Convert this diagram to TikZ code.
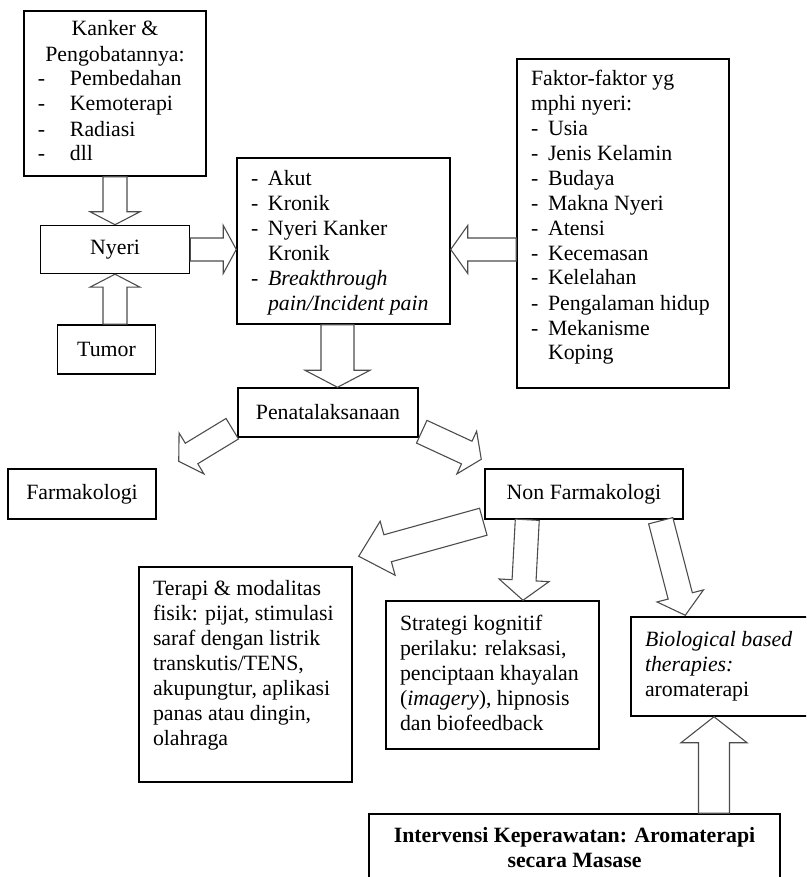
\documentclass[tikz,border=0pt]{standalone}
\usepackage{fontspec}
\setmainfont{Liberation Serif}
\usepackage{tikz}
\usetikzlibrary{calc,positioning}
\newdimen\px \px=0.55pt
\def\dashW{17\px}
\newcommand\dashitem[2][\dashW]{\makebox[#1][l]{-}#2}
% box text: width, height, top pad (px)
\newcommand\topbox[4]{\parbox[c][#2\px][t]{#1\px}{\raggedright\leftskip=14\px\vspace*{#3\px}#4}}
% block arrow: tail, tip, shaft width, head width, head length (px)
\newcommand\fatarrow[5]{%
  \coordinate (fa) at ($(#2)!#5*\px!(#1)$);
  \draw[fat] ($(#1)!#3/2*\px!90:(#2)$) -- ($(fa)!#3/2*\px!90:(#2)$) -- ($(fa)!#4/2*\px!90:(#2)$) -- (#2)
    -- ($(fa)!#4/2*\px!-90:(#2)$) -- ($(fa)!#3/2*\px!-90:(#2)$) -- ($(#1)!#3/2*\px!-90:(#2)$) -- cycle;
}
\tikzset{
  box/.style={draw=black, line width=0.8pt, inner sep=0pt},
  fat/.style={draw=black!70, line width=0.6pt, fill=white, line join=miter},
}

\begin{document}
\begin{tikzpicture}[x=0.55pt,y=-0.55pt,font=\fontsize{12}{13.75}\selectfont]
  \useasboundingbox (0,0) rectangle (806,877);
  \clip (0,0) rectangle (806,877);
  % top row
  \node[box] (kanker) at (115,93.5) {\topbox{182}{165}{7.5}{%
    \centerline{\strut Kanker \&}\centerline{Pengobatannya:}%
    \dashitem[32\px]{Pembedahan}\\ \dashitem[32\px]{Kemoterapi}\\
    \dashitem[32\px]{Radiasi}\\ \dashitem[32\px]{dll}}};
  \node[box, minimum width=149\px, minimum height=48\px, below=48\px of kanker] (nyeri) {Nyeri};
  \node[box, minimum width=98\px, minimum height=49\px, below=50\px of nyeri, xshift=-8.5\px] (tumor) {Tumor};
  \node[box] (akut) at (343.5,241) {\topbox{213}{166}{9.5}{%
    \strut\dashitem{Akut}\\ \dashitem{Kronik}\\ \dashitem{Nyeri Kanker}\\
    \hspace*{\dashW}Kronik\\ \dashitem{\textit{Breakthrough}}\\
    \hspace*{\dashW}\mbox{\textit{pain/Incident pain}}}};
  \node[box] (faktor) at (623,223.5) {\topbox{212}{329}{8.5}{%
    \strut Faktor-faktor yg\\ mphi nyeri:\\
    \dashitem{Usia}\\ \dashitem{Jenis Kelamin}\\ \dashitem{Budaya}\\
    \dashitem{Makna Nyeri}\\ \dashitem{Atensi}\\ \dashitem{Kecemasan}\\
    \dashitem{Kelelahan}\\ \dashitem{Pengalaman hidup}\\
    \dashitem{Mekanisme}\\ \hspace*{\dashW}Koping}};
  % middle
  \node[box, minimum width=180\px, minimum height=49\px] (pena) at (328,412.5) {Penatalaksanaan};
  \node[box, minimum width=148\px, minimum height=50\px] (farm) at (82,494) {Farmakologi};
  \node[box, minimum width=198\px, minimum height=50\px] (nonfarm) at (584,494) {Non Farmakologi};
  % bottom
  \node[box] (terapi) at (245.5,674.5) {\topbox{213}{215}{10.5}{%
    \strut Terapi \& modalitas\\ fisik: pijat, stimulasi\\ saraf dengan listrik\\
    transkutis/TENS,\\ akupungtur, aplikasi\\ panas atau dingin,\\ olahraga}};
  \node[box] (strategi) at (492.5,675) {\topbox{213}{148}{11.5}{%
    \strut Strategi kognitif\\ perilaku: relaksasi,\\ penciptaan khayalan\\
    (\textit{imagery}), hipnosis\\ dan biofeedback}};
  \node[box] (bio) at (723,666.5) {\topbox{184}{99}{11.5}{%
    \strut\textit{Biological based}\\ \textit{therapies:}\\ aromaterapi}};
  \node[box] (interv) at (574.5,854) {\parbox[c][80\px][t]{411\px}{\centering\bfseries
    \vspace*{10.5\px}\strut Intervensi Keperawatan: Aromaterapi\\ secara Masase}};
  % arrow ends
  \coordinate (tumor-up) at (nyeri.south |- tumor.north);
  \coordinate (akut-in) at (akut.west |- nyeri.east);
  \coordinate (faktor-out) at (faktor.west |- nyeri.east);
  \coordinate (akut-in2) at (akut.east |- nyeri.east);
  \coordinate (akut-out) at ($(akut.south)+(-6,0)$);
  \coordinate (pena-in) at (akut-out |- pena.north);
  \coordinate (pena-l) at ($(pena.south west)+(-5,-9)$);
  \coordinate (farm-in) at ($(farm.north east)+(22,-7)$);
  \coordinate (pena-r) at ($(pena.south east)+(3,-6)$);
  \coordinate (nonfarm-in) at ($(nonfarm.north west)+(-3,-9)$);
  \coordinate (nonfarm-l) at ($(nonfarm.south west)+(-1,2)$);
  \coordinate (terapi-in) at ($(terapi.north east)+(6,-10)$);
  \coordinate (nonfarm-m) at ($(nonfarm.south west)+(43,0)$);
  \coordinate (strategi-in) at ($(strategi.north)+(30.5,0)$);
  \coordinate (nonfarm-r) at ($(nonfarm.south east)+(-23,1)$);
  \coordinate (bio-in) at ($(bio.north west)+(55,-1)$);
  \coordinate (interv-out) at ($(interv.north)+(139.5,0)$);
  \coordinate (bio-in2) at (interv-out |- bio.south);
  % arrows
  \fatarrow{kanker.south}{nyeri.north}{24}{50}{13}
  \fatarrow{tumor-up}{nyeri.south}{24}{50}{13}
  \fatarrow{nyeri.east}{akut-in}{23}{48}{13}
  \fatarrow{faktor-out}{akut-in2}{23}{48}{17}
  \fatarrow{akut-out}{pena-in}{33}{65}{17}
  \fatarrow{pena-l}{farm-in}{24}{48}{15}
  \fatarrow{pena-r}{nonfarm-in}{25}{47}{16}
  \fatarrow{nonfarm-l}{terapi-in}{28}{56}{30}
  \fatarrow{nonfarm-m}{strategi-in}{24}{50}{20}
  \fatarrow{nonfarm-r}{bio-in}{25}{48}{20}
  \fatarrow{interv-out}{bio-in2}{31}{66}{26}
\end{tikzpicture}
\end{document}
